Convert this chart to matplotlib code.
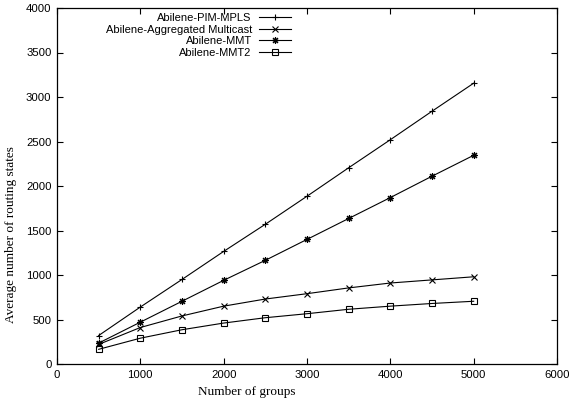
import matplotlib
matplotlib.use("Agg")
import matplotlib.pyplot as plt

# данные
groups = [500, 1000, 1500, 2000, 2500, 3000, 3500, 4000, 4500, 5000]
pim_mpls = [320, 640, 950, 1265, 1570, 1885, 2205, 2520, 2840, 3155]
aggregated = [220, 410, 540, 650, 730, 790, 855, 910, 945, 980]
mmt = [235, 470, 705, 940, 1165, 1400, 1635, 1870, 2110, 2345]
mmt2 = [165, 290, 385, 460, 520, 565, 615, 650, 680, 705]

series = [
    ("Abilene-PIM-MPLS", pim_mpls, dict(marker="+", markersize=5)),
    ("Abilene-Aggregated Multicast", aggregated, dict(marker="x", markersize=4.5)),
    ("Abilene-MMT", mmt, dict(marker=(8, 2, 0), markersize=5)),
    ("Abilene-MMT2", mmt2, dict(marker="s", markersize=4.5, markerfacecolor="none")),
]

W, H = 569, 408
fig = plt.figure(figsize=(W / 100, H / 100), dpi=100)
ax = fig.add_axes([57 / W, 1 - 364 / H, 500 / W, 356 / H])

lines = []
for name, vals, style in series:
    ln, = ax.plot(groups, vals, color="black", linewidth=0.8,
                  markeredgewidth=0.8, label=name, **style)
    lines.append(ln)

ax.set_xlim(0, 6000)
ax.set_ylim(0, 4000)
ax.set_xticks(range(0, 6001, 1000))
ax.set_yticks(range(0, 4001, 500))
ax.tick_params(direction="in", top=True, right=True, length=4, width=0.8,
               labelsize=8.2, pad=4)
for lab in ax.get_xticklabels() + ax.get_yticklabels():
    lab.set_family("Liberation Sans")
for s in ax.spines.values():
    s.set_linewidth(0.9)

# подписи осей стоят не по центру, как в оригинале
fig.text(247 / W, 1 - 392 / H, "Number of groups", family="Liberation Serif",
         fontsize=9.5, ha="center", va="center")
fig.text(11 / W, 1 - 235 / H, "Average number of routing states",
         family="Liberation Serif", fontsize=9.5, ha="center", va="center",
         rotation=90)

leg = fig.legend(handles=lines, loc="upper right",
                 bbox_to_anchor=(291 / W, 1 - 13 / H),
                 bbox_transform=fig.transFigure,
                 frameon=False, markerfirst=False, handlelength=2.9,
                 handletextpad=0.63, labelspacing=0.14, borderaxespad=0,
                 borderpad=0, prop={"family": "Liberation Sans", "size": 8})
for t in leg.get_texts():
    t.set_ha("right")
leg._legend_box.align = "right"

fig.savefig("out.png", dpi=100)
